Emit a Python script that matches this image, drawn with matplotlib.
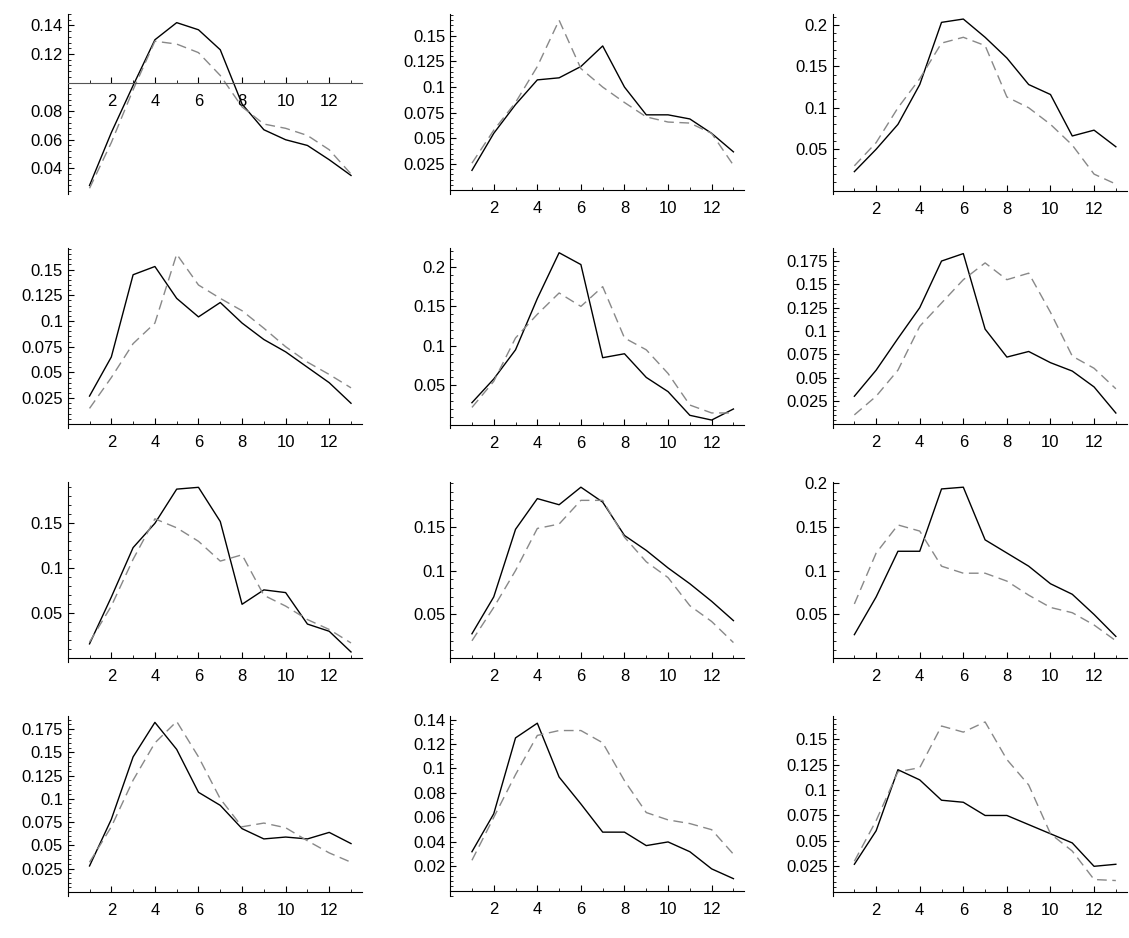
import numpy as np
import matplotlib
matplotlib.use("Agg")
import matplotlib.pyplot as plt
from matplotlib.ticker import MultipleLocator

plt.rcParams['font.family'] = ['Liberation Sans', 'DejaVu Sans']

x = np.arange(1, 14)

solid = [
    [0.028, 0.065, 0.098, 0.130, 0.142, 0.137, 0.123, 0.085, 0.067, 0.060, 0.056, 0.046, 0.035],
    [0.019, 0.055, 0.083, 0.107, 0.109, 0.120, 0.140, 0.100, 0.073, 0.073, 0.069, 0.055, 0.037],
    [0.023, 0.050, 0.080, 0.128, 0.203, 0.207, 0.185, 0.160, 0.128, 0.116, 0.066, 0.073, 0.053],
    [0.027, 0.065, 0.145, 0.153, 0.122, 0.104, 0.118, 0.098, 0.082, 0.070, 0.055, 0.040, 0.020],
    [0.028, 0.058, 0.095, 0.160, 0.218, 0.203, 0.085, 0.090, 0.060, 0.042, 0.012, 0.006, 0.020],
    [0.030, 0.058, 0.092, 0.125, 0.175, 0.183, 0.102, 0.072, 0.078, 0.066, 0.057, 0.040, 0.012],
    [0.016, 0.068, 0.123, 0.150, 0.188, 0.190, 0.152, 0.060, 0.076, 0.073, 0.038, 0.030, 0.007],
    [0.028, 0.070, 0.147, 0.182, 0.175, 0.195, 0.178, 0.140, 0.123, 0.103, 0.085, 0.065, 0.043],
    [0.027, 0.070, 0.122, 0.122, 0.193, 0.195, 0.135, 0.120, 0.105, 0.085, 0.073, 0.050, 0.025],
    [0.028, 0.078, 0.145, 0.182, 0.153, 0.107, 0.093, 0.068, 0.057, 0.059, 0.057, 0.064, 0.052],
    [0.032, 0.063, 0.125, 0.137, 0.093, 0.071, 0.048, 0.048, 0.037, 0.040, 0.032, 0.018, 0.010],
    [0.027, 0.060, 0.120, 0.110, 0.090, 0.088, 0.075, 0.075, 0.066, 0.057, 0.048, 0.025, 0.027],
]
dashed = [
    [0.026, 0.058, 0.095, 0.129, 0.127, 0.121, 0.105, 0.083, 0.071, 0.068, 0.063, 0.053, 0.036],
    [0.026, 0.058, 0.085, 0.120, 0.165, 0.118, 0.100, 0.085, 0.071, 0.066, 0.065, 0.055, 0.024],
    [0.030, 0.058, 0.100, 0.135, 0.178, 0.185, 0.175, 0.113, 0.100, 0.080, 0.055, 0.020, 0.008],
    [0.015, 0.045, 0.078, 0.098, 0.165, 0.135, 0.122, 0.110, 0.093, 0.075, 0.060, 0.048, 0.035],
    [0.022, 0.055, 0.110, 0.140, 0.167, 0.150, 0.175, 0.110, 0.095, 0.065, 0.025, 0.015, 0.015],
    [0.010, 0.030, 0.058, 0.105, 0.130, 0.155, 0.173, 0.155, 0.162, 0.120, 0.073, 0.060, 0.038],
    [0.018, 0.058, 0.110, 0.155, 0.145, 0.130, 0.108, 0.115, 0.070, 0.058, 0.043, 0.032, 0.017],
    [0.020, 0.058, 0.100, 0.148, 0.153, 0.180, 0.180, 0.138, 0.110, 0.092, 0.060, 0.042, 0.018],
    [0.062, 0.120, 0.152, 0.145, 0.105, 0.097, 0.097, 0.088, 0.072, 0.058, 0.052, 0.038, 0.020],
    [0.032, 0.070, 0.120, 0.160, 0.183, 0.145, 0.100, 0.070, 0.074, 0.069, 0.055, 0.042, 0.032],
    [0.025, 0.060, 0.095, 0.127, 0.131, 0.131, 0.121, 0.090, 0.064, 0.058, 0.055, 0.050, 0.030],
    [0.030, 0.070, 0.118, 0.122, 0.163, 0.157, 0.167, 0.130, 0.105, 0.057, 0.040, 0.012, 0.011],
]
# y tick labels per panel, and where the x axis crosses
y_ticks = [
    [0.04, 0.06, 0.08, 0.12, 0.14],
    [0.025, 0.05, 0.075, 0.1, 0.125, 0.15],
    [0.05, 0.1, 0.15, 0.2],
    [0.025, 0.05, 0.075, 0.1, 0.125, 0.15],
    [0.05, 0.1, 0.15, 0.2],
    [0.025, 0.05, 0.075, 0.1, 0.125, 0.15, 0.175],
    [0.05, 0.1, 0.15],
    [0.05, 0.1, 0.15],
    [0.05, 0.1, 0.15, 0.2],
    [0.025, 0.05, 0.075, 0.1, 0.125, 0.15, 0.175],
    [0.02, 0.04, 0.06, 0.08, 0.1, 0.12, 0.14],
    [0.025, 0.05, 0.075, 0.1, 0.125, 0.15],
]
x_axis_at = [0.1, 0, 0, 0, 0, 0, 0, 0, 0, 0, 0, 0]

fig, axes = plt.subplots(4, 3, figsize=(11.29, 9.38), dpi=100)
fig.subplots_adjust(left=0.06, right=0.998, bottom=0.045, top=0.985, wspace=0.3, hspace=0.3)

for i, ax in enumerate(axes.flat):
    s = np.array(solid[i]); d = np.array(dashed[i])
    ax.plot(x, s, color='black', lw=1.0)
    ax.plot(x, d, color='#888888', lw=1.0, dashes=(7, 4))
    lo = min(s.min(), d.min(), x_axis_at[i])
    hi = max(s.max(), d.max())
    ax.set_xlim(0, 13.5)
    ax.set_ylim(lo - 0.004, hi + 0.006)
    for side in ['top', 'right']:
        ax.spines[side].set_visible(False)
    ax.spines['left'].set_position(('data', 0))
    ax.spines['bottom'].set_position(('data', x_axis_at[i]))
    if i == 0:
        ax.spines['bottom'].set_color('#555555')
    ax.set_xticks([2, 4, 6, 8, 10, 12])
    ax.xaxis.set_minor_locator(MultipleLocator(1))
    ticks = y_ticks[i]
    ax.set_yticks(ticks)
    ax.yaxis.set_minor_locator(MultipleLocator((ticks[1] - ticks[0]) / 5))
    ax.set_yticklabels(['%g' % t for t in ticks])
    ax.tick_params(labelsize=12, direction='in', length=4, width=0.8)
    ax.tick_params(which='minor', direction='in', length=2, width=0.6)
    ax.tick_params(axis='x', pad=8)

fig.savefig('out.png')
